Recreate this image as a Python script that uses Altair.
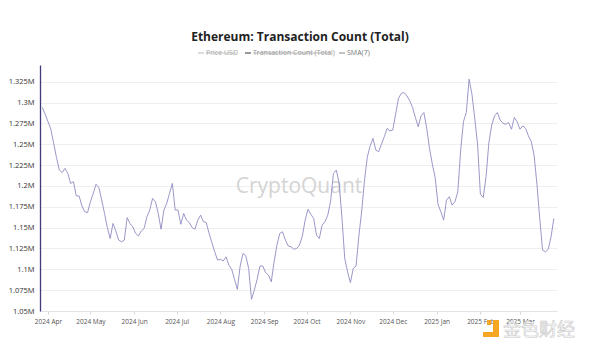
import altair as alt
import pandas as pd

# ---- data ----
start_date = "2024-03-28"
step = "2D"
tx_count_k = [
    1294, 1286, 1277, 1268, 1251, 1234, 1219, 1216, 1221, 1215,
    1203, 1205, 1188, 1188, 1176, 1169, 1168, 1181, 1191, 1202,
    1198, 1183, 1167, 1150, 1137, 1155, 1146, 1135, 1133, 1135,
    1162, 1155, 1151, 1143, 1140, 1146, 1149, 1163, 1171, 1185,
    1181, 1167, 1148, 1171, 1179, 1191, 1203, 1171, 1171, 1154,
    1167, 1159, 1156, 1150, 1148, 1159, 1165, 1157, 1156, 1143,
    1132, 1121, 1111, 1112, 1110, 1115, 1105, 1100, 1088, 1076,
    1104, 1119, 1116, 1101, 1064, 1075, 1088, 1104, 1104, 1096,
    1093, 1085, 1109, 1129, 1143, 1145, 1135, 1128, 1127, 1124,
    1125, 1129, 1140, 1159, 1172, 1166, 1161, 1141, 1137, 1153,
    1157, 1165, 1182, 1215, 1219, 1204, 1162, 1113, 1097, 1084,
    1101, 1104, 1140, 1170, 1207, 1235, 1248, 1257, 1243, 1241,
    1250, 1259, 1269, 1266, 1267, 1286, 1305, 1311, 1312, 1308,
    1302, 1294, 1282, 1271, 1284, 1288, 1269, 1245, 1226, 1210,
    1178, 1169, 1159, 1183, 1187, 1177, 1181, 1193, 1242, 1277,
    1288, 1328, 1310, 1281, 1250, 1190, 1186, 1211, 1252, 1273,
    1284, 1288, 1279, 1275, 1274, 1276, 1268, 1282, 1277, 1268,
    1272, 1269, 1260, 1253, 1237, 1202, 1161, 1123, 1121, 1124,
    1139, 1161,
]
y_ticks = [1050000, 1075000, 1100000, 1125000, 1150000, 1175000, 1200000,
           1225000, 1250000, 1275000, 1300000, 1325000]
month_ticks = [(2024, 4), (2024, 5), (2024, 6), (2024, 7), (2024, 8), (2024, 9),
               (2024, 10), (2024, 11), (2024, 12), (2025, 1), (2025, 2), (2025, 3)]
title_text = "Ethereum: Transaction Count (Total)"
legend_labels = ["Price USD", "Transaction Count (Total)", "SMA(7)"]

dates = pd.date_range(start_date, periods=len(tx_count_k), freq=step)
df = pd.DataFrame({"date": dates.strftime("%Y-%m-%d"),
                   "value": [v * 1000 for v in tx_count_k]})

FONT = "Open Sans"
W, H = 517, 246

x_enc = alt.X(
    "date:T",
    scale=alt.Scale(type="utc", domain=["2024-03-26T08:00:00Z", "2025-03-27T05:00:00Z"]),
    axis=alt.Axis(
        title=None,
        values=[alt.DateTime(year=y, month=m, date=1, utc=True) for y, m in month_ticks],
        format="%Y %b",
        grid=False,
        domainColor="#e3e3e3",
        tickColor="#d8d8d8",
        tickSize=3,
        labelFontSize=6.5,
        labelColor="#555555",
        labelFont=FONT,
        labelPadding=4,
        labelOverlap=False,
    ),
)
y_enc = alt.Y(
    "value:Q",
    scale=alt.Scale(domain=[1050000, 1345000], nice=False, zero=False),
    axis=alt.Axis(
        title=None,
        values=y_ticks,
        format=".4~s",
        grid=True,
        gridColor="#efefef",
        domainColor="#3f3b78",
        domainWidth=1.3,
        ticks=False,
        labelFontSize=7.5,
        labelColor="#333333",
        labelFont=FONT,
        labelPadding=6,
    ),
)

one = pd.DataFrame({"k": [0]})

watermark = alt.Chart(one).mark_text(
    text="CryptoQuant", font=FONT, fontSize=21, color="#d4d4d4",
    align="center", baseline="middle",
).encode(x=alt.value(259), y=alt.value(122))

line = alt.Chart(df).mark_line(color="#8f8cc2", strokeWidth=0.9).encode(x=x_enc, y=y_enc)

title = alt.Chart(one).mark_text(
    text=title_text, font=FONT, fontSize=12, fontWeight="bold", color="#222222",
    align="center", baseline="middle",
).encode(x=alt.value(260), y=alt.value(-28))

legend_layers = []
items = [
    # dash x0, x1, dash colour, text x, text colour, strike end
    (158, 164, "#bbbbbb", 166, "#aaaaaa", 196),
    (205, 211, "#333333", 213, "#999999", 291),
    (299, 305, "#888888", 307, "#777777", None),
]
for lbl, (d0, d1, dc, tx, tc, se) in zip(legend_labels, items):
    legend_layers.append(
        alt.Chart(one).mark_rule(color=dc, strokeWidth=1).encode(
            x=alt.value(d0), x2=alt.value(d1), y=alt.value(-12))
    )
    legend_layers.append(
        alt.Chart(one).mark_text(
            text=lbl, font=FONT, fontSize=7, color=tc, align="left", baseline="middle"
        ).encode(x=alt.value(tx), y=alt.value(-12))
    )
    if se is not None:
        legend_layers.append(
            alt.Chart(one).mark_rule(color=tc, strokeWidth=0.7).encode(
                x=alt.value(tx), x2=alt.value(se), y=alt.value(-12))
        )

# site watermark bottom right
logo_col = "#f5a623"
logo = [
    alt.Chart(one).mark_rect(color=logo_col).encode(
        x=alt.value(453), x2=alt.value(459), y=alt.value(255), y2=alt.value(272)),
    alt.Chart(one).mark_rect(color=logo_col).encode(
        x=alt.value(443), x2=alt.value(459), y=alt.value(267), y2=alt.value(272)),
    alt.Chart(one).mark_rect(color=logo_col).encode(
        x=alt.value(447), x2=alt.value(451), y=alt.value(255), y2=alt.value(260)),
    alt.Chart(one).mark_text(
        text="金色财经", font="Noto Sans CJK SC", fontSize=18, color="#ffffff",
        stroke="#c8c8c8", strokeWidth=0.6, align="left", baseline="middle",
    ).encode(x=alt.value(463), y=alt.value(266)),
]

chart = alt.layer(watermark, line, title, *legend_layers, *logo).properties(
    width=W, height=H,
    autosize=alt.AutoSizeParams(type="none"),
    padding={"left": 40, "top": 65, "right": 43, "bottom": 42},
    background="white",
).configure_view(stroke=None)

chart.save("out.html", embed_options={"renderer": "svg", "actions": False})
